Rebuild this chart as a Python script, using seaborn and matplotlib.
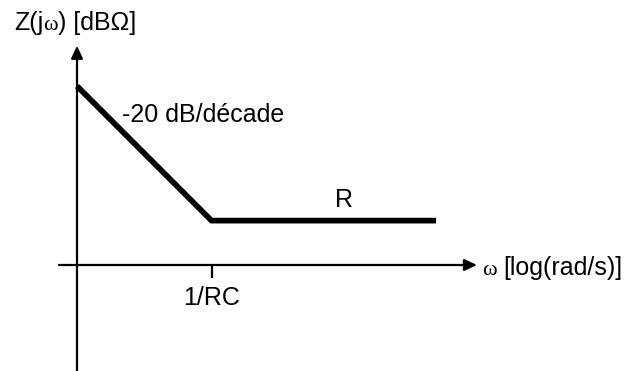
import matplotlib
matplotlib.use("Agg")
import matplotlib.pyplot as plt
import seaborn as sns
import pandas as pd
from matplotlib.offsetbox import TextArea, HPacker, AnnotationBbox

sns.set_style("white")
plt.rcParams["font.family"] = ["Liberation Sans", "DejaVu Sans"]
plt.rcParams["text.color"] = "black"

# Asymptotic Bode magnitude of Z = R + 1/(jwC): x in decades (0 on the vertical axis,
# 1 at the corner 1/RC), y in dB relative to the horizontal axis
log_omega = [0.0, 1.0, 2.67]
z_db = [26.6, 6.6, 6.6]
corner_label = "1/RC"
slope_label = "-20 dB/décade"
plateau_label = "R"

df = pd.DataFrame({"log_omega": log_omega, "z_db": z_db})

fig = plt.figure(figsize=(6.30, 3.71), dpi=100)
ax = fig.add_axes([0, 0, 1, 1])
ax.set_xlim(-0.5725, 4.1115)
ax.set_ylim(-15.76, 39.4)
ax.axis("off")

# axes with arrow heads
arrow = dict(arrowstyle="-|>,head_length=0.75,head_width=0.35", color="black",
             lw=1.6, shrinkA=0, shrinkB=0)
ax.annotate("", xy=(2.974, 0), xytext=(-0.134, 0), arrowprops=arrow)
ax.annotate("", xy=(0, 32.6), xytext=(0, -15.76), arrowprops=arrow)

# asymptotes
sns.lineplot(data=df, x="log_omega", y="z_db", ax=ax, color="black", lw=4.1,
             solid_joinstyle="miter", solid_capstyle="butt", legend=False)

# tick at the corner frequency
ax.plot([1.0, 1.0], [0, -1.9], color="black", lw=1.6, solid_capstyle="butt")

fs = 18
ax.text(1.0, -4.9, corner_label, ha="center", va="center", fontsize=fs, color="black")
ax.text(1.985, 9.7, plateau_label, ha="center", va="center", fontsize=fs, color="black")
ax.text(0.335, 22.3, slope_label, ha="left", va="center", fontsize=fs, color="black")


def mixed_label(parts, xy, align):
    boxes = []
    for txt, fam, size in parts:
        boxes.append(TextArea(txt, textprops=dict(family=fam, fontsize=size, color="black")))
    pack = HPacker(children=boxes, align="baseline", pad=0, sep=0)
    ab = AnnotationBbox(pack, xy, xycoords="data", frameon=False, box_alignment=align, pad=0)
    ax.add_artist(ab)


mixed_label([("Z(j", "Liberation Sans", fs), ("ω", "Liberation Serif", fs - 2),
             (") [dBΩ]", "Liberation Sans", fs)], (-0.468, 36.0), (0.0, 0.5))
mixed_label([("ω ", "Liberation Serif", fs - 2), ("[log(rad/s)]", "Liberation Sans", fs)],
            (3.02, -0.45), (0.0, 0.5))

fig.savefig("out.png", dpi=100)
